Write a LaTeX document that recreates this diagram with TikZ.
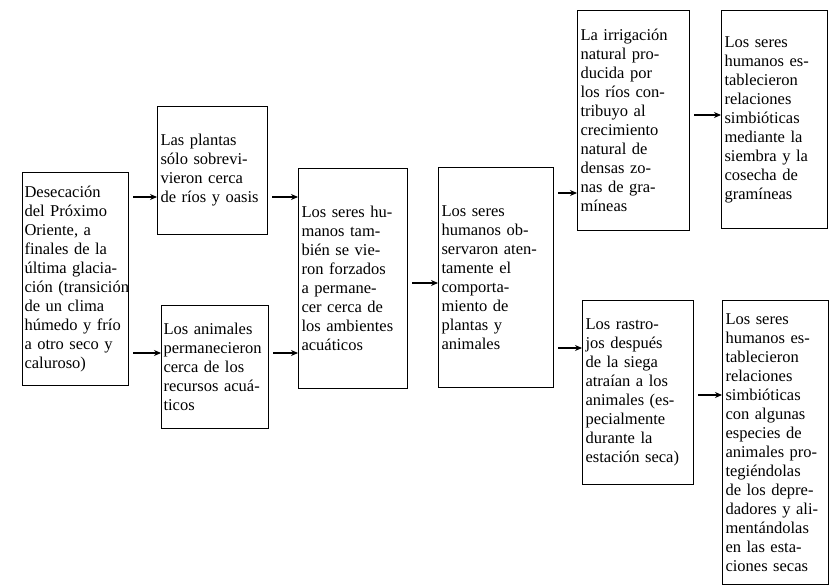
\documentclass[tikz,border=0pt]{standalone}
\usepackage{fontspec}
\setmainfont{Liberation Serif}
\usetikzlibrary{arrows.meta}

\begin{document}
\begin{tikzpicture}[
  x=1pt, y=-1pt,
  every node/.style={font=\fontsize{16.5}{19}\selectfont},
  box/.style={draw, line width=1.1pt, rectangle, anchor=north west,
              align=left, inner xsep=3pt, inner ysep=4pt},
  arr/.style={-{Stealth[length=7pt,width=6pt]}, line width=1.1pt,
              shorten <=4pt}
]
  \useasboundingbox (0,0) rectangle (831,585);

  % first column
  \node[box, inner xsep=2pt, minimum width=106pt, minimum height=213pt, text width=102pt] (desec) at (22,172)
    {Desecación\\del Próximo\\Oriente, a\\finales de la\\última glacia-\\\mbox{ción (transición}\\de un clima\\húmedo y frío\\a otro seco y\\caluroso)};

  % second column
  \node[box, minimum width=110pt, minimum height=128pt, text width=104pt] (plantas) at (157,106)
    {Las plantas\\sólo sobrevi-\\vieron cerca\\de ríos y oasis};
  \node[box, inner xsep=2pt, minimum width=107pt, minimum height=123pt, text width=103pt] (animales) at (161,305)
    {Los animales\\\mbox{permanecieron}\\cerca de los\\recursos acuá-\\ticos};

  % third and fourth column
  \node[box, minimum width=109pt, minimum height=220pt, text width=103pt] (forzados) at (298,168)
    {Los seres hu-\\manos tam-\\bién se vie-\\ron forzados\\a permane-\\cer cerca de\\los ambientes\\acuáticos};
  \node[box, minimum width=115pt, minimum height=220pt, text width=109pt] (observan) at (438,167)
    {Los seres\\humanos ob-\\servaron aten-\\tamente el\\comporta-\\miento de\\plantas y\\animales};

  % upper branch
  \node[box, minimum width=112pt, minimum height=220pt, text width=106pt] (irriga) at (577,10)
    {La irrigación\\natural pro-\\ducida por\\los ríos con-\\tribuyo al\\crecimiento\\natural de\\densas zo-\\nas de gra-\\míneas};
  \node[box, minimum width=106pt, minimum height=218pt, text width=100pt] (siembra) at (721,10)
    {Los seres\\humanos es-\\tablecieron\\relaciones\\simbióticas\\mediante la\\siembra y la\\cosecha de\\gramíneas};

  % lower branch
  \node[box, minimum width=111pt, minimum height=184pt, text width=105pt] (rastrojo) at (582,300)
    {Los rastro-\\jos después\\de la siega\\atraían a los\\animales (es-\\pecialmente\\durante la\\estación seca)};
  \node[box, minimum width=106pt, minimum height=284pt, text width=100pt] (cria) at (722,300)
    {Los seres\\humanos es-\\tablecieron\\relaciones\\simbióticas\\con algunas\\especies de\\animales pro-\\tegiéndolas\\de los depre-\\dadores y ali-\\mentándolas\\en las esta-\\ciones secas};

  % arrow heights
  \coordinate (ya) at (0,197);
  \coordinate (yb) at (0,353);
  \coordinate (yc) at (0,283);
  \coordinate (yd) at (0,193);
  \coordinate (ye) at (0,348);
  \coordinate (yf) at (0,115);
  \coordinate (yg) at (0,395);

  \draw[arr] (desec.east |- ya)    -- (plantas.west |- ya);
  \draw[arr] (desec.east |- yb)    -- (animales.west |- yb);
  \draw[arr] (plantas.east |- ya)  -- (forzados.west |- ya);
  \draw[arr] (animales.east |- yb) -- (forzados.west |- yb);
  \draw[arr] (forzados.east |- yc) -- (observan.west |- yc);
  \draw[arr] (observan.east |- yd) -- (irriga.west |- yd);
  \draw[arr] (observan.east |- ye) -- (rastrojo.west |- ye);
  \draw[arr] (irriga.east |- yf)   -- (siembra.west |- yf);
  \draw[arr] (rastrojo.east |- yg) -- (cria.west |- yg);
\end{tikzpicture}
\end{document}
